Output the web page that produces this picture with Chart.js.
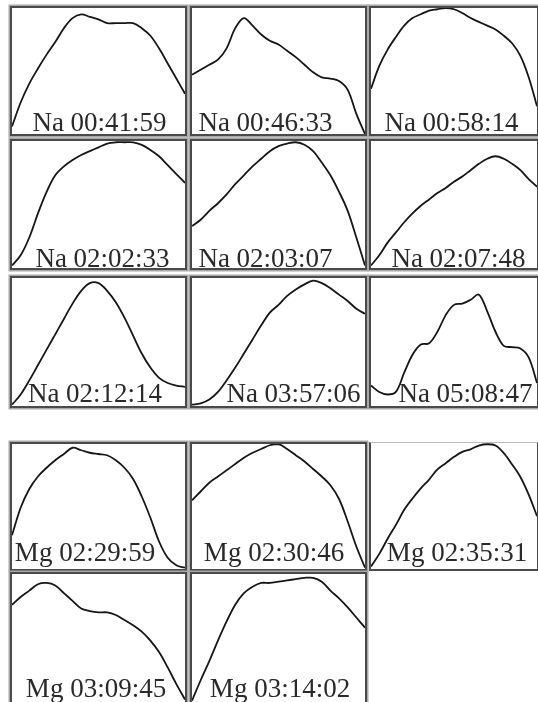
<!DOCTYPE html>
<html>
<head>
<meta charset="utf-8">
<script src="https://cdn.jsdelivr.net/npm/chart.js"></script>
<style>
  html, body { margin: 0; padding: 0; background: #fff; }
  body { width: 538px; height: 702px; position: relative; overflow: hidden; }
  .panel { position: absolute; box-sizing: border-box; border: 2px solid #4a4a4a; box-shadow: 0 0 0 1.5px #a8a8a8; background: #fff; }
  .panel.light { border-top: 1px solid #bbb; box-shadow: none; border-left: 2px solid #4a4a4a; }
  .panel canvas { display: block; }
</style>
</head>
<body>
<script>
// ---- DATA (0 = panel bottom, 100 = panel top) ----
const categories = ['0','5','10','15','20','25','30','35','40','45','50','55','60','65','70','75','80','85','90','95','100'];

const na_004159 = [6,25,40,52,63,73,84,92,95,93,91,88,88,88,88,84,78,68,56,44,32];
const na_004633 = [47,51,55,59,68,84,92,86,79,74,71,66,61,55,49,45,44,42,35,16,0];
const na_005814 = [36,54,67,77,86,92,95,98,99,100,99,96,92,89,86,83,78,72,62,45,22];
const na_020233 = [2,10,24,43,60,73,80,85,89,92,95,98,99,99,99,97,93,88,81,74,67];
const na_020307 = [33,38,45,51,58,66,73,80,86,92,96,98,99,97,92,83,73,60,45,24,2];
const na_020748 = [2,10,20,28,36,43,49,54,59,63,68,72,77,82,86,88,86,82,77,70,64];
const na_021214 = [1,9,20,32,44,56,68,80,90,96,96,90,81,69,55,41,30,22,18,16,15];
const na_035706 = [1,2,5,11,20,30,41,52,63,73,79,86,91,95,98,96,92,87,82,76,72];
const na_050847 = [16,11,9,11,26,40,48,49,58,71,79,80,83,87,74,58,47,46,45,38,18];
const mg_022959 = [27,49,64,74,81,87,92,97,95,93,92,91,87,81,72,58,41,22,9,3,1];
const mg_023046 = [55,62,69,74,79,84,89,93,96,99,100,96,91,86,80,74,67,56,38,18,1];
const mg_023531 = [2,12,24,35,47,56,64,71,79,84,89,93,95,98,99,98,92,83,73,59,42];
const mg_030945 = [76,82,87,92,93,91,85,79,73,71,70,70,68,64,60,55,48,39,27,14,2];
const mg_031402 = [1,17,32,48,63,76,85,90,93,93,94,95,96,97,97,94,87,81,74,66,58];

const panelLabels = ['Na 00:41:59','Na 00:46:33','Na 00:58:14','Na 02:02:33','Na 02:03:07','Na 02:07:48',
                     'Na 02:12:14','Na 03:57:06','Na 05:08:47','Mg 02:29:59','Mg 02:30:46','Mg 02:35:31',
                     'Mg 03:09:45','Mg 03:14:02'];
const panelSeries = [na_004159, na_004633, na_005814, na_020233, na_020307, na_020748,
                     na_021214, na_035706, na_050847, mg_022959, mg_023046, mg_023531,
                     mg_030945, mg_031402];

// ---- LAYOUT (positions only) ----
const cols = [[10,187],[190,367],[369,539]];
const rows = [[6,136],[139,270],[276,408],[442,571],[572,704]];
const rowBaseline = [131,267,402,561,697];
const labelCenters = [99.5,265.5,451.5,102.5,265.5,458.5,95,293.5,465.5,85,274,457,96,280];

panelSeries.forEach((series, i) => {
  const r = Math.floor(i / 3), c = i % 3;
  const [x0, x1] = cols[c], [y0, y1] = rows[r];
  const div = document.createElement('div');
  div.className = 'panel' + (i === 11 ? ' light' : '');
  div.style.left = x0 + 'px'; div.style.top = y0 + 'px';
  div.style.width = (x1 - x0) + 'px'; div.style.height = (y1 - y0) + 'px';
  document.body.appendChild(div);
  const cv = document.createElement('canvas');
  div.appendChild(cv);
  const bt = (i === 11) ? 1 : 2;
  const labelX = labelCenters[i] - x0 - 2;
  const labelY = rowBaseline[r] - y0 - bt;
  new Chart(cv, {
    type: 'line',
    data: { labels: categories, datasets: [{ data: series, borderColor: '#161616', borderWidth: 1.8, pointRadius: 0, tension: 0.35, fill: false }] },
    options: {
      responsive: true, maintainAspectRatio: false, animation: false,
      layout: { padding: 0 },
      plugins: { legend: { display: false }, tooltip: { enabled: false }, title: { display: false } },
      scales: { x: { display: false }, y: { display: false, min: 0, max: 100 } }
    },
    plugins: [{
      id: 'lbl',
      afterDraw(chart) {
        const ctx = chart.ctx;
        ctx.save();
        ctx.font = '27px "Liberation Serif", "Times New Roman", serif';
        ctx.fillStyle = '#2a2a2a';
        ctx.textAlign = 'center';
        ctx.textBaseline = 'alphabetic';
        ctx.fillText(panelLabels[i], labelX, labelY);
        ctx.restore();
      }
    }]
  });
});
</script>
</body>
</html>
